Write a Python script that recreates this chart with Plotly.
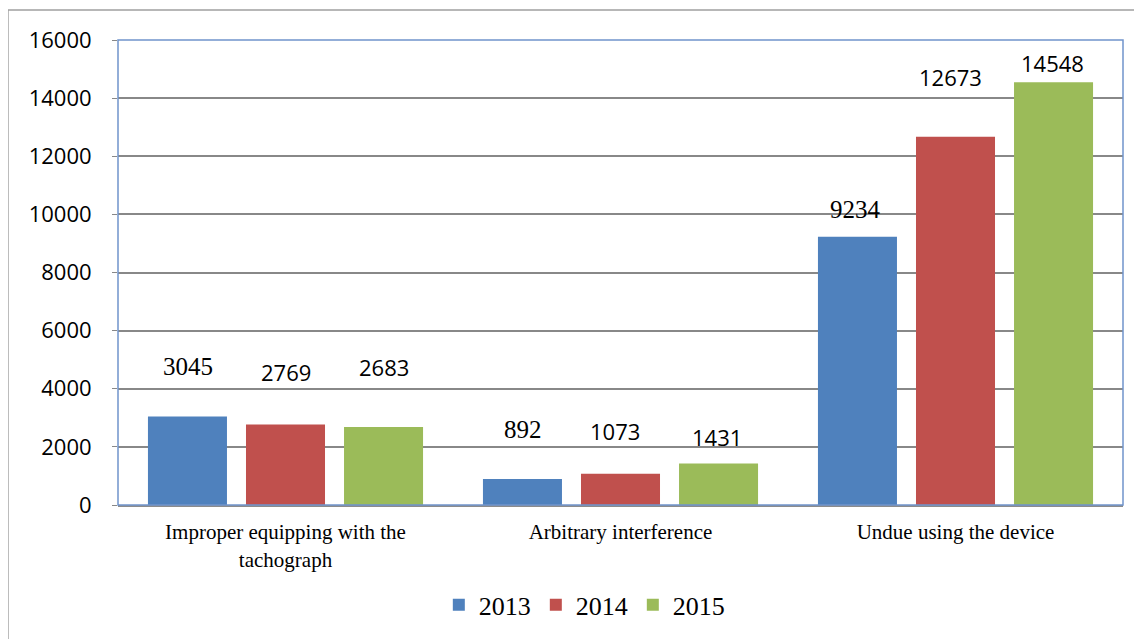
import plotly.graph_objects as go

categories = ["Improper equipping with the<br>tachograph", "Arbitrary interference", "Undue using the device"]
years = ["2013", "2014", "2015"]
values_2013 = [3045, 892, 9234]
values_2014 = [2769, 1073, 12673]
values_2015 = [2683, 1431, 14548]
colors = ["#4F81BD", "#C0504D", "#9BBB59"]
y_ticks = [0, 2000, 4000, 6000, 8000, 10000, 12000, 14000, 16000]

SERIF = "Liberation Serif, Times New Roman, serif"
SANS = "Open Sans, sans-serif"
# label styling per (series, category): font family and pixel offset above bar top
label_fonts = [
    [SERIF, SERIF, SERIF],
    [SANS, SANS, SANS],
    [SANS, SANS, SANS],
]
label_lift = [
    [50, 50, 27],
    [53, 43, 60],
    [60, 26, 19],
]
label_dx = [
    [0, 0, -2],
    [0, -6, -5],
    [0, -2, -1],
]

series = [values_2013, values_2014, values_2015]

fig = go.Figure()
for yr, vals, col in zip(years, series, colors):
    fig.add_trace(go.Bar(x=categories, y=vals, name=yr, marker=dict(color=col, line=dict(width=0))))

slot = 98
for i, vals in enumerate(series):
    for j, v in enumerate(vals):
        fam = label_fonts[i][j]
        fig.add_annotation(
            x=categories[j], y=v, xref="x", yref="y",
            text=str(v), showarrow=False,
            xshift=(i - 1) * slot + label_dx[i][j], yshift=label_lift[i][j],
            font=dict(family=fam, size=25 if fam == SERIF else 22, color="black"),
        )

# outer chart border
fig.add_shape(type="rect", xref="paper", yref="paper", x0=-0.1095, y0=-0.4, x1=1.2, y1=1.0644,
              line=dict(color="#A0A0A0", width=1.5), layer="below")
# plot area border
fig.add_shape(type="rect", xref="paper", yref="paper", x0=0, y0=0, x1=1, y1=1,
              line=dict(color="#7094CC", width=1.5))

fig.update_layout(
    width=1134, height=631,
    margin=dict(l=110, r=19, t=32, b=133),
    paper_bgcolor="white", plot_bgcolor="white",
    barmode="group", bargap=0.122, bargroupgap=0.194,
    showlegend=True,
    legend=dict(orientation="h", x=0.464, xanchor="center", y=-0.212, yanchor="middle",
                font=dict(family=SERIF, size=26, color="black"),
                itemwidth=30, traceorder="normal"),
    xaxis=dict(showline=True, linecolor="#8C8C8C", linewidth=2, ticks="",
               ticklabelstandoff=7,
               tickfont=dict(family=SERIF, size=21, color="black")),
    yaxis=dict(range=[0, 16000], tickvals=y_ticks, tickformat="d", showgrid=True,
               gridcolor="#888888", gridwidth=1.5,
               ticks="outside", ticklen=5, tickcolor="#888888", zeroline=False,
               ticklabelstandoff=16,
               tickfont=dict(family=SANS, size=22, color="black")),
)

fig.write_html("out.html")
